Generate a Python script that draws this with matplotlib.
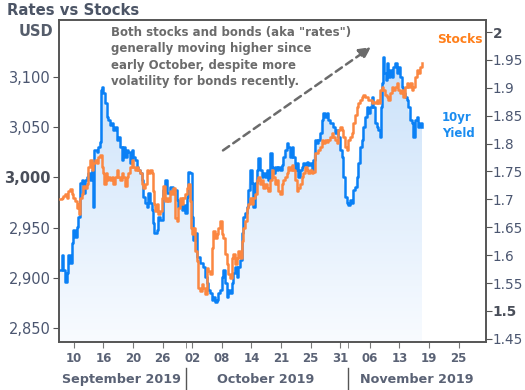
import numpy as np
import matplotlib.pyplot as plt
from matplotlib.colors import LinearSegmentedColormap

plt.rcParams['font.family'] = 'DejaVu Sans'

# trading-day index (0 = Sep 6 2019), 10yr yield in %
t_yield = [0.14, 0.41, 0.54, 0.81, 1.08, 1.22, 1.49, 1.76, 1.89, 2.16, 2.43, 2.57, 2.84, 3.11, 3.24, 3.51,
           3.78, 3.92, 4.19, 4.46, 4.59, 4.73, 5.14, 5.27, 5.54, 5.68, 5.81, 5.95, 6.22, 6.49, 6.62, 6.89,
           7.16, 7.30, 7.57, 7.84, 7.97, 8.24, 8.51, 8.65, 8.92, 9.19, 9.32, 9.59, 9.86, 10.00, 10.27, 10.54,
           10.68, 10.95, 11.22, 11.35, 11.62, 11.89, 12.03, 12.30, 12.57, 12.70, 12.84, 13.24, 13.38, 13.65,
           14.05, 14.32, 14.59, 15.00, 15.41, 15.95, 16.08, 16.35, 16.62, 16.76, 17.03, 17.30, 17.43, 17.70,
           17.97, 18.11, 18.38, 18.65, 18.78, 19.05, 19.46, 19.73, 20.00, 20.14, 20.41, 20.68, 20.81, 21.08,
           21.35, 21.49, 21.76, 22.03, 22.16, 22.43, 22.70, 22.84, 23.11, 23.38, 23.51, 23.78, 24.05, 24.19,
           24.46, 24.73, 24.86, 25.14, 25.41, 25.54, 25.81, 26.08, 26.22, 26.49, 26.76, 26.89, 27.16, 27.43,
           27.57, 27.84, 28.11, 28.24, 28.51, 28.78, 28.92, 29.19, 29.46, 29.59, 29.86, 30.14, 30.27, 30.54,
           30.81, 30.95, 31.22, 31.49, 31.62, 31.89, 32.16, 32.30, 32.57, 32.84, 32.97, 33.24, 33.51, 33.65,
           33.92, 34.19, 34.32, 34.59, 34.86, 35.00, 35.27, 35.54, 35.68, 35.95, 36.22, 36.35, 36.62, 36.89,
           37.03, 37.30, 37.57, 37.70, 37.97, 38.24, 38.38, 38.65, 38.92, 39.05, 39.32, 39.59, 39.73, 40.00,
           40.27, 40.41, 40.68, 40.95, 41.08, 41.35, 41.62, 41.76, 42.03, 42.30, 42.43, 42.70, 42.97, 43.11,
           43.38, 43.51, 43.65, 43.78, 43.92, 44.19, 44.32, 44.46, 44.73, 45.00, 45.14, 45.41, 45.68, 45.81,
           46.08, 46.35, 46.49, 46.76, 47.03, 47.16, 47.43, 47.70, 47.84, 48.11, 48.38, 48.51, 48.78, 49.05]
yield_10y = [1.573, 1.600, 1.573, 1.552, 1.568, 1.600, 1.586, 1.622, 1.645, 1.633, 1.651, 1.668, 1.729, 1.735, 1.711, 1.735,
             1.740, 1.747, 1.735, 1.753, 1.686, 1.789, 1.785, 1.794, 1.803, 1.896, 1.901, 1.891, 1.873, 1.848, 1.842, 1.833,
             1.837, 1.824, 1.830, 1.806, 1.812, 1.794, 1.771, 1.794, 1.776, 1.789, 1.785, 1.765, 1.789, 1.776, 1.771, 1.758,
             1.753, 1.747, 1.735, 1.704, 1.694, 1.686, 1.711, 1.694, 1.681, 1.658, 1.640, 1.645, 1.668, 1.663,
             1.717, 1.735, 1.711, 1.722, 1.717, 1.699, 1.686, 1.699, 1.681, 1.690, 1.676, 1.704, 1.749, 1.747,
             1.668, 1.627, 1.640, 1.597, 1.597, 1.586, 1.579, 1.561, 1.550, 1.538, 1.532, 1.520, 1.525, 1.516,
             1.520, 1.532, 1.538, 1.561, 1.573, 1.550, 1.525, 1.538, 1.532, 1.550, 1.568, 1.579, 1.561, 1.579,
             1.591, 1.640, 1.668, 1.676, 1.686, 1.717, 1.753, 1.729, 1.686, 1.729, 1.753, 1.774, 1.753, 1.740,
             1.747, 1.740, 1.753, 1.735, 1.783, 1.758, 1.747, 1.758, 1.753, 1.758, 1.753, 1.762, 1.776, 1.789,
             1.801, 1.794, 1.776, 1.794, 1.776, 1.753, 1.765, 1.740, 1.753, 1.758, 1.765, 1.762, 1.767, 1.762,
             1.765, 1.753, 1.771, 1.806, 1.801, 1.806, 1.819, 1.842, 1.855, 1.848, 1.855, 1.842, 1.837, 1.837,
             1.830, 1.819, 1.824, 1.812, 1.789, 1.776, 1.740, 1.704, 1.694, 1.690, 1.699, 1.694, 1.717, 1.722,
             1.740, 1.765, 1.794, 1.806, 1.830, 1.848, 1.866, 1.855, 1.866, 1.884, 1.866, 1.837, 1.830, 1.824,
             1.812, 1.866, 1.909, 1.955, 1.927, 1.914, 1.944, 1.919, 1.932, 1.919, 1.937, 1.944, 1.927, 1.937,
             1.919, 1.901, 1.891, 1.884, 1.878, 1.866, 1.842, 1.837, 1.812, 1.842, 1.848, 1.830, 1.837, 1.830]

# S&P 500 (USD)
t_stocks = [0.14, 0.41, 0.54, 0.81, 1.08, 1.22, 1.49, 1.76, 1.89, 2.16, 2.43, 2.57, 2.70, 2.84, 3.11, 3.24,
            3.51, 3.78, 3.92, 4.19, 4.46, 4.59, 4.86, 5.14, 5.27, 5.54, 5.81, 5.95, 6.08, 6.35, 6.49, 6.62,
            6.89, 7.16, 7.30, 7.57, 7.84, 7.97, 8.24, 8.51, 8.65, 8.92, 9.19, 9.32, 9.59, 9.86, 10.00, 10.27,
            10.54, 10.68, 10.95, 11.22, 11.35, 11.62, 11.89, 12.03, 12.30, 12.57, 12.70, 12.84, 12.97, 13.24,
            13.38, 13.65, 13.92, 14.05, 14.32, 14.59, 14.73, 15.00, 15.27, 15.41, 15.68, 15.95, 16.08, 16.35,
            16.62, 16.76, 17.03, 17.30, 17.43, 17.70, 17.84, 17.97, 18.11, 18.38, 18.65, 18.78, 19.05, 19.32,
            19.46, 19.73, 20.00, 20.14, 20.41, 20.68, 20.81, 21.08, 21.35, 21.49, 21.76, 22.03, 22.16, 22.43,
            22.70, 22.84, 23.11, 23.38, 23.51, 23.78, 24.05, 24.19, 24.46, 24.73, 24.86, 25.14, 25.41, 25.54,
            25.81, 26.08, 26.22, 26.49, 26.76, 26.89, 27.16, 27.43, 27.57, 27.84, 28.11, 28.24, 28.51, 28.78,
            28.92, 29.19, 29.46, 29.59, 29.86, 30.14, 30.27, 30.54, 30.81, 30.95, 31.22, 31.49, 31.62, 31.89,
            32.16, 32.30, 32.57, 32.84, 32.97, 33.24, 33.51, 33.65, 33.92, 34.19, 34.32, 34.59, 34.86, 35.00,
            35.27, 35.54, 35.68, 35.95, 36.22, 36.35, 36.62, 36.89, 37.03, 37.30, 37.57, 37.70, 37.97, 38.24,
            38.38, 38.65, 38.92, 39.05, 39.32, 39.59, 39.73, 40.00, 40.27, 40.41, 40.68, 40.95, 41.08, 41.35,
            41.62, 41.76, 42.03, 42.30, 42.43, 42.70, 42.97, 43.11, 43.38, 43.65, 43.78, 44.05, 44.32, 44.46,
            44.73, 45.00, 45.14, 45.41, 45.68, 45.81, 46.08, 46.35, 46.49, 46.76, 47.03, 47.16, 47.43, 47.70,
            47.84, 48.11, 48.38, 48.51, 48.78, 49.05]
stocks = [2979, 2980, 2982, 2984, 2980, 2987, 2989, 2984, 2980, 2977, 2970, 2974, 2964, 2980, 2984, 2992,
          2990, 2994, 3010, 3017, 3007, 3014, 3017, 3014, 3020, 3022, 3010, 3004, 2994, 3004, 2997, 3000,
          2997, 3000, 2994, 3000, 3007, 3000, 2997, 3004, 3000, 2992, 3000, 3004, 3010, 3017, 3010, 3007,
          3010, 3007, 3004, 2994, 2990, 2994, 3007, 3004, 3007, 3004, 2987, 2974, 2967, 2974,
          2964, 2967, 2980, 2992, 2977, 2980, 2977, 2987, 2984, 2990, 2960, 2957, 2970, 2980,
          2974, 2980, 2984, 2990, 2994, 2977, 2950, 2944, 2950, 2927, 2917, 2890, 2887, 2894,
          2890, 2884, 2910, 2907, 2904, 2930, 2947, 2940, 2944, 2950, 2957, 2944, 2940, 2924,
          2914, 2904, 2900, 2920, 2924, 2914, 2920, 2927, 2920, 2937, 2950, 2957, 2970, 2974,
          2980, 2974, 2980, 2984, 2997, 3000, 2994, 2997, 2990, 2994, 2990, 2987, 2997, 3007,
          3000, 2994, 2997, 2987, 2984, 2994, 2997, 3000, 3004, 3010, 3007, 3012, 3007, 2997,
          2987, 2990, 2994, 3000, 3004, 3010, 3007, 3004, 3007, 3004, 3005, 3024, 3024, 3027,
          3030, 3037, 3034, 3037, 3035, 3037, 3040, 3044, 3040, 3037, 3034, 3047, 3050, 3047,
          3040, 3030, 3027, 3037, 3040, 3044, 3054, 3062, 3070, 3074, 3077, 3080, 3082, 3080,
          3080, 3077, 3077, 3074, 3075, 3074, 3077, 3074, 3087, 3090, 3087, 3082, 3080, 3077,
          3084, 3090, 3087, 3090, 3094, 3087, 3084, 3087, 3080, 3090, 3094, 3090, 3094, 3087,
          3090, 3100, 3107, 3104, 3110, 3114]

day_ticks = [2, 6, 10, 14, 18, 22, 26, 30, 34, 38, 42, 46, 50, 54]
day_labels = ['10', '16', '20', '26', '02', '08', '14', '21', '25', '31', '06', '13', '19', '25']
month_labels = ['September 2019', 'October 2019', 'November 2019']
month_starts = [17.16, 39.05]
usd_ticks = [2850, 2900, 2950, 3000, 3050, 3100]
yield_ticks = [1.45, 1.5, 1.55, 1.6, 1.65, 1.7, 1.75, 1.8, 1.85, 1.9, 1.95, 2.0]

blue = '#0a80f5'
orange = '#fb8741'
tick_col = '#4b5670'
dark = '#4a4f5a'

fig = plt.figure(figsize=(5.25, 3.9), dpi=100)
ax = fig.add_axes([0.1124, 0.1231, 0.8133, 0.8256])
ax2 = ax.twinx()
ax.set_zorder(ax2.get_zorder() + 1)
ax.patch.set_visible(False)

ax.set_xlim(0, 57.7)
ax.set_ylim(2836, 3157)
ax2.set_ylim(1.4444, 2.0215)

# gradient fill under the yield line
y0, y1 = ax2.get_ylim()
cmap = LinearSegmentedColormap.from_list('fade', ['#f8fbff', '#c4def9'])
grad = np.linspace(0, 1, 256).reshape(-1, 1)
im = ax2.imshow(grad, extent=[0, 57.7, y0, y1], origin='lower', aspect='auto', cmap=cmap, zorder=1)
poly = ax2.fill_between(t_yield, yield_10y, y0, facecolor='none', edgecolor='none')
im.set_clip_path(poly.get_paths()[0], transform=ax2.transData)
ax2.plot(t_yield, yield_10y, color=blue, lw=1.8, zorder=2, drawstyle='steps-post')
ax2.set_xlim(0, 57.7)

ax.plot(t_stocks, stocks, color=orange, lw=1.8, zorder=3, drawstyle='steps-post')

for a in (ax, ax2):
    for s in a.spines.values():
        s.set_color('#555555')
        s.set_linewidth(1.2)

ax.set_yticks(usd_ticks)
ax.set_yticklabels([f'{v:,}' for v in usd_ticks])
ax.tick_params(axis='y', colors='#555555', labelcolor=tick_col, labelsize=10.5, length=4, pad=2)
for lab in ax.get_yticklabels():
    if lab.get_text() == '3,000':
        lab.set_fontweight('bold')
        lab.set_color(dark)

ax2.set_yticks(yield_ticks)
ax2.set_yticklabels([f'{v:g}' for v in yield_ticks])
ax2.tick_params(axis='y', colors='#555555', labelcolor=tick_col, labelsize=9.8, length=4, pad=1)
for lab in ax2.get_yticklabels():
    if lab.get_text() in ('1.5', '2'):
        lab.set_fontweight('bold')
        lab.set_color(dark)

ax.set_xticks(day_ticks)
ax.set_xticklabels(day_labels, fontweight='bold')
ax.set_xticks(month_starts, minor=True)
ax.tick_params(axis='x', which='both', colors='#777777', labelcolor='#5a6275', labelsize=8.5, length=4, pad=3)

month_x = [0.1475, 0.485, 0.837]
for mx, lab in zip(month_x, month_labels):
    ax.text(mx, -0.118, lab, transform=ax.transAxes, ha='center', va='center',
            fontsize=9.2, fontweight='bold', color='#5a6275')
for ms in month_starts:
    ax.plot([ms, ms], [-0.081, -0.149], color='#555555', lw=1,
            transform=ax.get_xaxis_transform(), clip_on=False)

fig.text(0.013, 0.974, 'Rates vs Stocks', fontsize=10.7, fontweight='bold', color='#4c5566', va='center')
fig.text(0.101, 0.918, 'USD', fontsize=10.5, fontweight='bold', color='#555d6b', va='center', ha='right')

ax.text(0.993, 0.941, 'Stocks', transform=ax.transAxes, ha='right', va='center',
        fontsize=8.8, fontweight='bold', color='#ff7f1a')
ax.text(0.897, 0.671, '10yr\nYield', transform=ax.transAxes, ha='left', va='center',
        fontsize=8.5, fontweight='bold', color='#1a8cf0', linespacing=1.3)

ax.text(0.1218, 0.981, 'Both stocks and bonds (aka "rates")\ngenerally moving higher since\n'
        'early October, despite more\nvolatility for bonds recently.',
        transform=ax.transAxes, ha='left', va='top', fontsize=8.5, fontweight='bold',
        color='#6b6b6b', linespacing=1.33)

ax.annotate('', xy=(42.16, 3130), xytext=(22.16, 3027),
            arrowprops=dict(arrowstyle='-|>,head_length=0.7,head_width=0.35', color='#6b6b6b',
                            lw=1.8, linestyle=(0, (3, 2)), shrinkA=0, shrinkB=0))

fig.savefig('out.png', dpi=100)
